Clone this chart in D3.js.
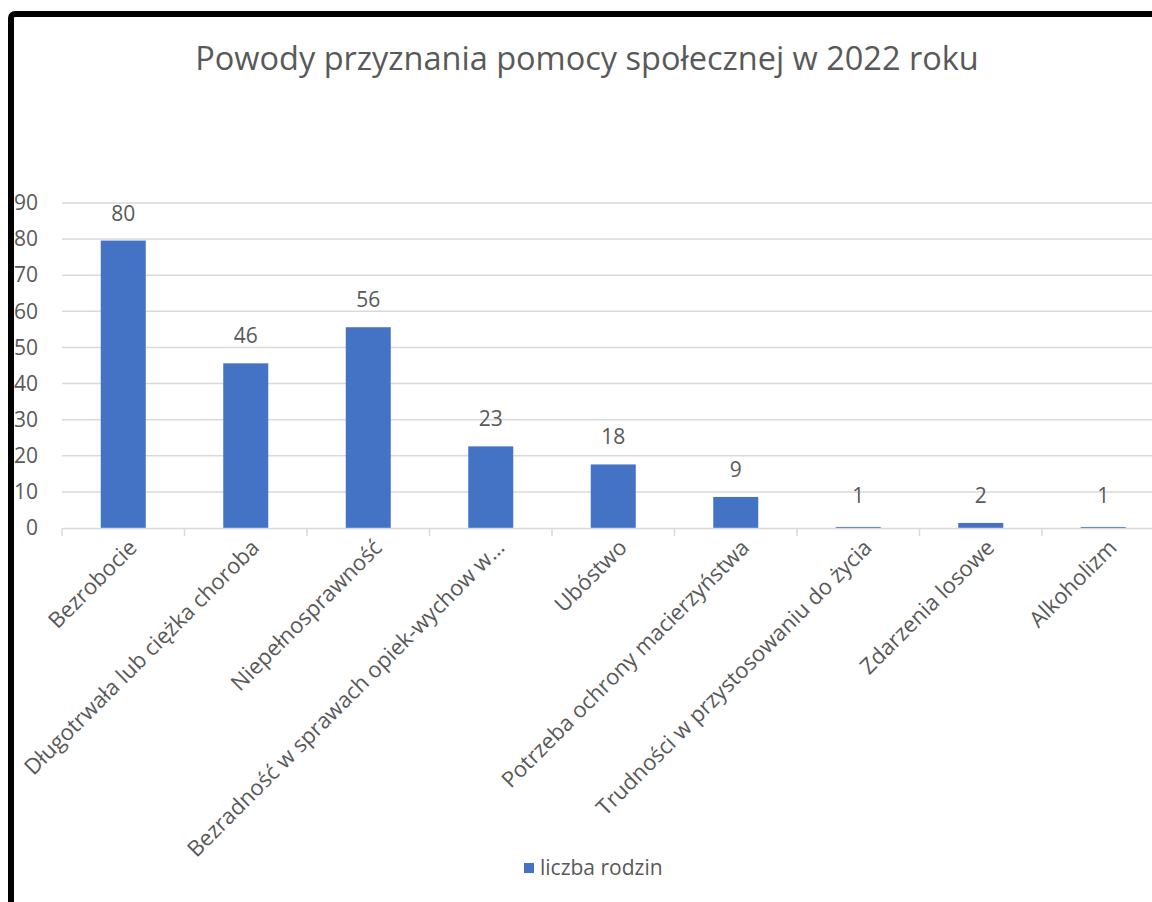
<!DOCTYPE html>
<html>
<head>
<meta charset="utf-8">
<script src="https://cdn.jsdelivr.net/npm/d3@7"></script>
<style>
  body { margin: 0; background: #fff; }
  text { font-family: "Open Sans", "Noto Sans", sans-serif; fill: #595959; }
</style>
</head>
<body>
<div id="chart"></div>
<script>
// dane
var categories = ["Bezrobocie", "Długotrwała lub ciężka choroba", "Niepełnosprawność",
    "Bezradność w sprawach opiek-wychow w…", "Ubóstwo", "Potrzeba ochrony macierzyństwa",
    "Trudności w przystosowaniu do życia", "Zdarzenia losowe", "Alkoholizm"];
var values = [79.6, 45.6, 55.6, 22.6, 17.6, 8.6, 0.3, 1.4, 0.3];
var valueLabels = ["80", "46", "56", "23", "18", "9", "1", "2", "1"];
var yTicks = [0, 10, 20, 30, 40, 50, 60, 70, 80, 90];
var seriesName = "liczba rodzin";
var title = "Powody przyznania pomocy społecznej w 2022 roku";

var W = 1152, H = 902;
var svg = d3.select("#chart").append("svg").attr("width", W).attr("height", H);

var x = d3.scaleBand().domain(categories).range([62, 62 + 9 * 122.5]);
var y = d3.scaleLinear().domain([0, 90]).range([528, 203]);

// tytul
svg.append("text").attr("x", 587).attr("y", 70).attr("text-anchor", "middle")
    .style("font-size", "32.5px").text(title);

// linie siatki
svg.append("g").selectAll("line").data(yTicks.filter(function(d){ return d > 0; }))
    .enter().append("line")
    .attr("x1", 62).attr("x2", W)
    .attr("y1", function(d){ return y(d); }).attr("y2", function(d){ return y(d); })
    .attr("stroke", "#d9d9d9").attr("stroke-width", 1.5);

// os Y
var yAxis = svg.append("g").attr("transform", "translate(40,0)")
    .call(d3.axisLeft(y).tickValues(yTicks).tickSize(0).tickPadding(2));
yAxis.select(".domain").remove();
yAxis.selectAll("text").style("font-size", "21px").attr("fill", "#595959");

// slupki
var bw = 45;
svg.append("g").selectAll("rect").data(values).enter().append("rect")
    .attr("x", function(d, i){ return x(categories[i]) + x.bandwidth() / 2 - bw / 2; })
    .attr("y", function(d){ return y(d); })
    .attr("width", bw)
    .attr("height", function(d){ return y(0) - y(d); })
    .attr("fill", "#4472c4");

// etykiety wartosci
svg.append("g").selectAll("text").data(values).enter().append("text")
    .attr("x", function(d, i){ return x(categories[i]) + x.bandwidth() / 2; })
    .attr("y", function(d, i){ return Math.min(y(d), y(1.3)) - 20; })
    .attr("text-anchor", "middle")
    .style("font-size", "21px")
    .attr("fill", "#404040")
    .text(function(d, i){ return valueLabels[i]; });

// os X
var xAxis = svg.append("g").attr("transform", "translate(0,528)")
    .call(d3.axisBottom(x).tickSize(0).tickFormat(""));
xAxis.select(".domain").attr("stroke", "#d9d9d9").attr("stroke-width", 1.5);
svg.append("g").selectAll("line").data(d3.range(10)).enter().append("line")
    .attr("x1", function(d){ return 62 + d * x.step(); })
    .attr("x2", function(d){ return 62 + d * x.step(); })
    .attr("y1", 528).attr("y2", 536)
    .attr("stroke", "#d9d9d9").attr("stroke-width", 1.5);

svg.append("g").selectAll("text").data(categories).enter().append("text")
    .attr("transform", function(d){
        return "translate(" + (x(d) + x.bandwidth() / 2 + 15) + ",549) rotate(-45)";
    })
    .attr("text-anchor", "end")
    .style("font-size", "22px")
    .text(function(d){ return d; });

// legenda
svg.append("rect").attr("x", 524).attr("y", 863).attr("width", 10).attr("height", 10)
    .attr("fill", "#4472c4");
svg.append("text").attr("x", 540).attr("y", 875).style("font-size", "21px").text(seriesName);

// czarna ramka
svg.append("rect").attr("x", 11).attr("y", 14).attr("width", W + 20).attr("height", H + 20)
    .attr("rx", 4).attr("fill", "none").attr("stroke", "#000").attr("stroke-width", 6);
</script>
</body>
</html>
